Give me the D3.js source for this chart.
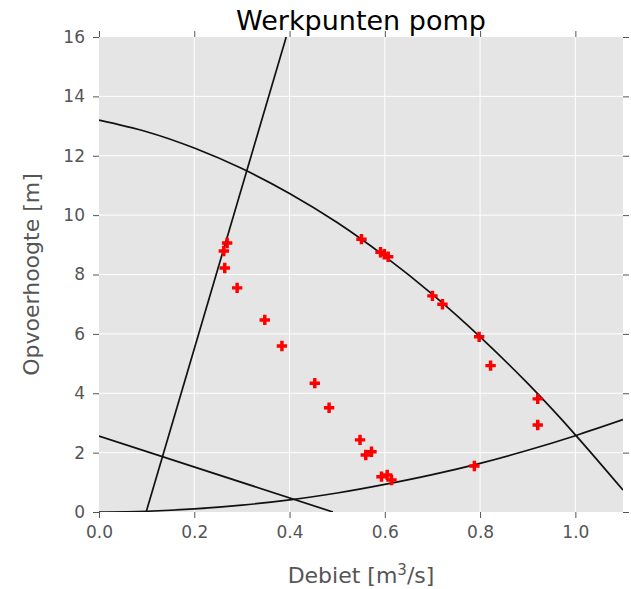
<!DOCTYPE html>
<head>
  <meta charset="utf-8">
  <style>
    body { margin: 0; background: #fff; }
    text { font-family: "DejaVu Sans", sans-serif; }
  </style>
</head>
<body>
  <div id="chart"></div>
  <script src="https://d3js.org/d3.v7.min.js"></script>
  <script>

    // axis ticks
    var xTicks = [0.0, 0.2, 0.4, 0.6, 0.8, 1.0]
    var yTicks = [0, 2, 4, 6, 8, 10, 12, 14, 16]

    // pump curve
    var pumpQ = [0, 0.1, 0.2, 0.3, 0.4, 0.5, 0.6, 0.7, 0.8, 0.9, 1.0, 1.1]
    var pumpH = [13.2, 12.81, 12.26, 11.57, 10.73, 9.75, 8.61, 7.33, 5.90, 4.33, 2.60, 0.74]

    // system curve
    var systemQ = [0, 0.1, 0.2, 0.3, 0.4, 0.5, 0.6, 0.7, 0.8, 0.9, 1.0, 1.1]
    var systemH = [0, 0.026, 0.103, 0.23, 0.41, 0.64, 0.93, 1.26, 1.64, 2.08, 2.57, 3.11]

    // two straight lines
    var steepQ = [0.099, 0.393]
    var steepH = [0, 16]
    var fallQ = [0, 0.491]
    var fallH = [2.56, 0]

    // measured working points
    var pointsQ = [0.269, 0.262, 0.264, 0.290, 0.348, 0.384, 0.453, 0.483, 0.548, 0.560, 0.572, 0.593, 0.605,
                   0.614, 0.551, 0.591, 0.599, 0.607, 0.700, 0.721, 0.798, 0.822, 0.921, 0.921, 0.788]
    var pointsH = [9.06, 8.79, 8.22, 7.55, 6.47, 5.59, 4.34, 3.51, 2.43, 1.92, 2.03, 1.19, 1.25,
                   1.08, 9.19, 8.75, 8.68, 8.60, 7.28, 7.00, 5.90, 4.93, 3.81, 2.93, 1.55]

    var width = 631, height = 589
    var pl = 99, pr = 623, pt = 37, pb = 512

    var svg = d3.select("#chart").append("svg")
      .attr("width", width)
      .attr("height", height)

    var x = d3.scaleLinear().domain([0, 1.1]).range([pl, pr])
    var y = d3.scaleLinear().domain([0, 16]).range([pb, pt])

    svg.append("rect")
      .attr("x", pl).attr("y", pt)
      .attr("width", pr - pl).attr("height", pb - pt)
      .attr("fill", "#e5e5e5")

    svg.append("clipPath").attr("id", "clip")
      .append("rect")
      .attr("x", pl).attr("y", pt)
      .attr("width", pr - pl).attr("height", pb - pt)

    // grid
    svg.append("g").selectAll("line")
      .data(xTicks.slice(1))
      .enter().append("line")
        .attr("x1", d => x(d)).attr("x2", d => x(d))
        .attr("y1", pt).attr("y2", pb)
        .attr("stroke", "#fff").attr("stroke-width", 1)
    svg.append("g").selectAll("line")
      .data(yTicks.slice(1, -1))
      .enter().append("line")
        .attr("y1", d => y(d)).attr("y2", d => y(d))
        .attr("x1", pl).attr("x2", pr)
        .attr("stroke", "#fff").attr("stroke-width", 1)

    // axes, ticks outward on all four sides
    function styleAxis(g) {
      g.select(".domain").remove()
      g.selectAll(".tick line").attr("stroke", "#555")
      g.selectAll(".tick text").attr("fill", "#555").style("font-size", "17px")
        .style("font-family", "DejaVu Sans")
    }
    svg.append("g").attr("transform", `translate(0,${pb})`)
      .call(d3.axisBottom(x).tickValues(xTicks).tickFormat(d3.format(".1f")).tickSize(6).tickPadding(8))
      .call(styleAxis)
    svg.append("g").attr("transform", `translate(0,${pt})`)
      .call(d3.axisTop(x).tickValues(xTicks).tickFormat("").tickSize(6))
      .call(styleAxis)
    svg.append("g").attr("transform", `translate(${pl},0)`)
      .call(d3.axisLeft(y).tickValues(yTicks).tickSize(6).tickPadding(8))
      .call(styleAxis)
    svg.append("g").attr("transform", `translate(${pr},0)`)
      .call(d3.axisRight(y).tickValues(yTicks).tickFormat("").tickSize(6))
      .call(styleAxis)

    // curves and lines
    var plot = svg.append("g").attr("clip-path", "url(#clip)")

    function pairs(qs, hs) {
      return qs.map((q, i) => [q, hs[i]])
    }
    var smooth = d3.line().x(d => x(d[0])).y(d => y(d[1])).curve(d3.curveNatural)
    var straight = d3.line().x(d => x(d[0])).y(d => y(d[1]))

    ;[pairs(pumpQ, pumpH), pairs(systemQ, systemH)].forEach(function(p) {
      plot.append("path").attr("d", smooth(p))
        .attr("fill", "none").attr("stroke", "#111").attr("stroke-width", 1.7)
    })
    ;[pairs(steepQ, steepH), pairs(fallQ, fallH)].forEach(function(p) {
      plot.append("path").attr("d", straight(p))
        .attr("fill", "none").attr("stroke", "#111").attr("stroke-width", 1.7)
    })

    // working points as filled red plus signs
    var plus = d3.symbol().type(d3.symbolCross).size(60)
    plot.append("g").selectAll("path")
      .data(pairs(pointsQ, pointsH))
      .enter().append("path")
        .attr("d", plus)
        .attr("transform", d => `translate(${x(d[0])},${y(d[1])})`)
        .attr("fill", "#ff0000")

    // labels
    svg.append("text")
      .attr("x", (pl + pr) / 2).attr("y", 30)
      .attr("text-anchor", "middle")
      .style("font-size", "27px").attr("fill", "#000")
      .text("Werkpunten pomp")

    var xl = svg.append("text")
      .attr("x", (pl + pr) / 2).attr("y", 583)
      .attr("text-anchor", "middle")
      .style("font-size", "22px").attr("fill", "#555")
    xl.append("tspan").text("Debiet [m")
    xl.append("tspan").attr("dy", -8).style("font-size", "15px").text("3")
    xl.append("tspan").attr("dy", 8).text("/s]")

    svg.append("text")
      .attr("transform", `translate(39,${(pt + pb) / 2}) rotate(-90)`)
      .attr("text-anchor", "middle")
      .style("font-size", "22px").attr("fill", "#555")
      .text("Opvoerhoogte [m]")

  </script>
</body>
